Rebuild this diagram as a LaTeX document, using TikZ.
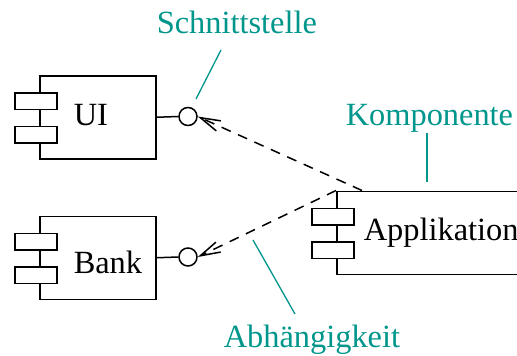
\documentclass[tikz,border=0pt]{standalone}
\usepackage{fontspec}
\setmainfont{Liberation Serif}
\usetikzlibrary{arrows.meta,calc}
\definecolor{anno}{RGB}{0,150,140}
\begin{document}
\begin{tikzpicture}[x=1pt,y=-1pt,line width=1.5pt,
  comp/.style={draw,fill=white,minimum width=116pt,minimum height=83pt,inner sep=0pt,anchor=north west},
  port/.style={draw,fill=white,minimum width=42pt,minimum height=16.5pt,inner sep=0pt,anchor=north west},
  ball/.style={draw,circle,minimum size=18pt,inner sep=0pt},
  lbl/.style={font=\fontsize{32.4}{38}\selectfont,inner sep=0pt,anchor=base west},
  note/.style={lbl,text=anno},
  noteline/.style={draw=anno,line width=1.3pt},
  dep/.style={draw,dash pattern=on 10pt off 8pt,-{Straight Barb[length=20pt,width=11pt]}}]
\useasboundingbox (0,0) rectangle (517,356);
\clip (0,0) rectangle (517,356);

% components with their two port tabs
\node[comp] (ui) at (39,75) {};
\node[port] (uip1) at ($(ui.north west)+(-25,17)$) {};
\node[port] (uip2) at ($(ui.north west)+(-25,50.5)$) {};
\node[lbl] (uit) at (73,125) {UI};

\node[comp] (bank) at (39,215.5) {};
\node[port] (bankp1) at ($(bank.north west)+(-25,17)$) {};
\node[port] (bankp2) at ($(bank.north west)+(-25,50.5)$) {};
\node[lbl] (bankt) at (73,273) {Bank};

\node[comp,minimum width=220pt] (app) at (336,190.5) {};
\node[port] (appp1) at ($(app.north west)+(-25,17)$) {};
\node[port] (appp2) at ($(app.north west)+(-25,50.5)$) {};
\node[lbl] (appt) at (363,240) {Applikation};

% provided interfaces (lollipops)
\node[ball] (uiball) at (188,116.5) {};
\draw (ui.east) -- (uiball.west);
\node[ball] (bankball) at (188,257) {};
\draw (bank.east) -- (bankball.west);

% dependencies
\coordinate (appdep) at ($(app.north west)+(26,0)$);
\draw[dep] (appdep) -- (uiball.east);
\draw[dep] (app.north west) -- (bankball.east);

% annotations
\node[note] (n1) at (156,33) {Schnittstelle};
\node[note] (n2) at (345,125) {Komponente};
\node[note] (n3) at (223,347) {Abhängigkeit};
\coordinate (n1a) at (221,50);
\coordinate (n1b) at (196,99);
\coordinate (n2a) at (427,133);
\coordinate (n2b) at (427,182);
\coordinate (n3a) at (295,314);
\coordinate (n3b) at (253,240);
\draw[noteline] (n1a) -- (n1b);
\draw[noteline] (n2a) -- (n2b);
\draw[noteline] (n3a) -- (n3b);
\end{tikzpicture}
\end{document}
